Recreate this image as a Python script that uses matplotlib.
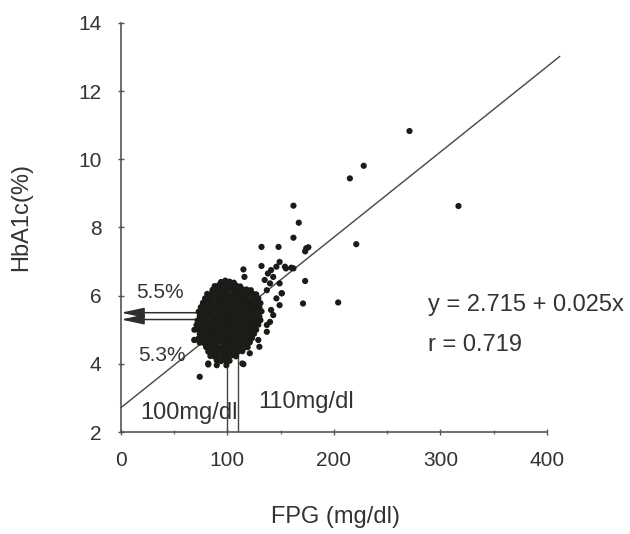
import matplotlib
matplotlib.use('Agg')
from matplotlib import pyplot as plt
from matplotlib.ticker import MultipleLocator

plt.rcParams['font.family'] = ['Liberation Sans', 'DejaVu Sans']

# dense core of subjects around FPG 100 mg/dl (typed row by row, bottom to top)
core_fpg = [
    90, 94, 98, 102,
    84, 88, 92, 96, 100, 104, 108,
    82, 86, 90, 94, 98, 102, 106, 110, 114,
    80, 84, 88, 92, 96, 100, 104, 108, 112, 116, 119,
    74, 78, 82, 86, 90, 94, 98, 102, 106, 110, 114, 118, 121,
    73, 76, 80, 84, 88, 92, 96, 100, 104, 108, 112, 116, 120, 123,
    74, 78, 82, 86, 90, 94, 98, 102, 106, 110, 114, 118, 122, 125,
    72, 76, 80, 84, 88, 92, 96, 100, 104, 108, 112, 116, 120, 124, 127,
    71, 74, 78, 82, 86, 90, 94, 98, 102, 106, 110, 114, 118, 122, 126, 129,
    72, 76, 80, 84, 88, 92, 96, 100, 104, 108, 112, 116, 120, 124, 128, 131,
    74, 78, 82, 86, 90, 94, 98, 102, 106, 110, 114, 118, 122, 126, 130,
    73, 76, 80, 84, 88, 92, 96, 100, 104, 108, 112, 116, 120, 124, 128, 132,
    75, 78, 82, 86, 90, 94, 98, 102, 106, 110, 114, 118, 122, 126, 130,
    77, 80, 84, 88, 92, 96, 100, 104, 108, 112, 116, 120, 124, 128, 131,
    79, 82, 86, 90, 94, 98, 102, 106, 110, 114, 118, 122, 126, 129,
    81, 84, 88, 92, 96, 100, 104, 108, 112, 116, 120, 124, 127,
    86, 90, 94, 98, 102, 106, 110, 114, 118, 122,
    88, 92, 96, 100, 104, 108, 112,
    94, 98, 102, 106,
]
core_hba1c = [
    4.10, 4.08, 4.11, 4.09,
    4.23, 4.21, 4.24, 4.22, 4.23, 4.25, 4.22,
    4.36, 4.35, 4.37, 4.34, 4.36, 4.38, 4.35, 4.36, 4.37,
    4.49, 4.48, 4.50, 4.47, 4.49, 4.51, 4.48, 4.49, 4.50, 4.48, 4.49,
    4.62, 4.61, 4.63, 4.60, 4.62, 4.64, 4.61, 4.62, 4.63, 4.61, 4.62, 4.60, 4.63,
    4.75, 4.74, 4.76, 4.73, 4.75, 4.77, 4.74, 4.75, 4.76, 4.74, 4.75, 4.73, 4.76, 4.75,
    4.88, 4.87, 4.89, 4.86, 4.88, 4.90, 4.87, 4.88, 4.89, 4.87, 4.88, 4.86, 4.89, 4.88,
    5.01, 5.00, 5.02, 4.99, 5.01, 5.03, 5.00, 5.01, 5.02, 5.00, 5.01, 4.99, 5.02, 5.01, 5.00,
    5.14, 5.13, 5.15, 5.12, 5.14, 5.16, 5.13, 5.14, 5.15, 5.13, 5.14, 5.12, 5.15, 5.14, 5.13, 5.15,
    5.27, 5.26, 5.28, 5.25, 5.27, 5.29, 5.26, 5.27, 5.28, 5.26, 5.27, 5.25, 5.28, 5.27, 5.26, 5.28,
    5.40, 5.39, 5.41, 5.38, 5.40, 5.42, 5.39, 5.40, 5.41, 5.39, 5.40, 5.38, 5.41, 5.40, 5.39,
    5.53, 5.52, 5.54, 5.51, 5.53, 5.55, 5.52, 5.53, 5.54, 5.52, 5.53, 5.51, 5.54, 5.53, 5.52, 5.54,
    5.66, 5.65, 5.67, 5.64, 5.66, 5.68, 5.65, 5.66, 5.67, 5.65, 5.66, 5.64, 5.67, 5.66, 5.65,
    5.79, 5.78, 5.80, 5.77, 5.79, 5.81, 5.78, 5.79, 5.80, 5.78, 5.79, 5.77, 5.80, 5.79, 5.78,
    5.92, 5.91, 5.93, 5.90, 5.92, 5.94, 5.91, 5.92, 5.93, 5.91, 5.92, 5.90, 5.93, 5.92,
    6.05, 6.04, 6.06, 6.03, 6.07, 6.05, 6.04, 6.06, 6.05, 6.04, 6.06, 6.05, 6.04,
    6.17, 6.19, 6.18, 6.16, 6.20, 6.18, 6.17, 6.19, 6.18, 6.16,
    6.28, 6.31, 6.30, 6.32, 6.29, 6.30, 6.27,
    6.40, 6.44, 6.41, 6.38,
]

# ragged edge of the core and the tail running up along the regression line
edge_fpg = [69, 69, 82, 90, 99, 115, 129, 137, 140, 141, 146, 151, 149, 143,
            146, 155, 162, 149, 132, 148, 132, 115, 116, 99, 140, 137, 135,
            138, 141, 149, 143, 137, 130, 121, 74]
edge_hba1c = [5.00, 4.70, 4.01, 3.96, 3.96, 3.99, 4.70, 4.94, 5.23, 5.58,
              5.92, 6.07, 6.36, 6.55, 6.85, 6.80, 6.80, 6.99, 6.87, 7.43,
              7.43, 6.77, 6.55, 6.36, 6.36, 6.16, 6.46, 6.65, 6.75, 5.72,
              5.43, 5.14, 4.50, 4.31, 3.62]

# scattered subjects away from the core
outlier_fpg = [271, 228, 215, 317, 221, 162, 167, 162, 176, 173, 174, 173,
               171, 204, 160, 154, 151, 114, 82, 69]
outlier_hba1c = [10.83, 9.81, 9.44, 8.63, 7.51, 8.64, 8.14, 7.70, 7.42, 7.30,
                 7.39, 6.43, 5.77, 5.80, 6.82, 6.85, 6.07, 4.01, 3.98, 4.70]

# regression y = a + b x
intercept = 2.715
slope = 0.025
r_value = 0.719
line_x = [0, 412]

# HbA1c cut-offs and matching FPG values
hba1c_cuts = [5.5, 5.3]
fpg_cuts = [100, 110]

ink = '#333333'
fig = plt.figure(figsize=(6.3, 5.34), dpi=100)
ax = fig.add_axes([0.192, 0.191, 0.676, 0.766])
ax.set_xlim(0, 400)
ax.set_ylim(2, 14)

# regression line
ax.plot(line_x, [intercept + slope * x for x in line_x], color='#444444',
        lw=1.0, clip_on=False, zorder=2)

# FPG 100 / 110 markers
for f in fpg_cuts:
    ax.plot([f, f], [2, 4.3], color='#444444', lw=1.0, zorder=2)

ax.scatter(core_fpg + edge_fpg + outlier_fpg,
           core_hba1c + edge_hba1c + outlier_hba1c,
           s=20, color='#1a1d17', edgecolors='none', zorder=3)

# arrows from the core back to the HbA1c axis
for h in hba1c_cuts:
    ax.annotate('', xy=(0, h), xytext=(80, h),
                arrowprops=dict(arrowstyle='-|>,head_length=1.4,head_width=0.3',
                                color='#2e2e2e', lw=1.1,
                                shrinkA=0, shrinkB=0, mutation_scale=10),
                zorder=2)

ax.text(14, 6.08, '5.5%', fontsize=15, color=ink, ha='left', va='center')
ax.text(16, 4.23, '5.3%', fontsize=15, color=ink, ha='left', va='center')
ax.text(18, 2.56, '100mg/dl', fontsize=17, color=ink, ha='left', va='center')
ax.text(129, 2.89, '110mg/dl', fontsize=17, color=ink, ha='left', va='center')
ax.text(288, 5.72, 'y = %.3f + %.3fx' % (intercept, slope), fontsize=17,
        color=ink, ha='left', va='center')
ax.text(288, 4.55, 'r = %.3f' % r_value, fontsize=17, color=ink,
        ha='left', va='center')

for side in ['top', 'right']:
    ax.spines[side].set_visible(False)
for side in ['left', 'bottom']:
    ax.spines[side].set_color('#555555')
    ax.spines[side].set_linewidth(1.2)

ax.xaxis.set_major_locator(MultipleLocator(100))
ax.xaxis.set_minor_locator(MultipleLocator(50))
ax.yaxis.set_major_locator(MultipleLocator(2))
ax.tick_params(axis='both', which='major', direction='inout', length=4,
               width=1, color='#555555', labelsize=15, labelcolor=ink, pad=12)
ax.tick_params(axis='x', which='minor', direction='inout', length=3,
               width=1, color='#777777')

fig.text(0.533, 0.032, 'FPG (mg/dl)', fontsize=17, color=ink,
         ha='center', va='center')
fig.text(0.034, 0.594, 'HbA1c(%)', fontsize=17, color=ink, rotation=90,
         ha='center', va='center')

fig.savefig('out.png', dpi=100, facecolor='white')
